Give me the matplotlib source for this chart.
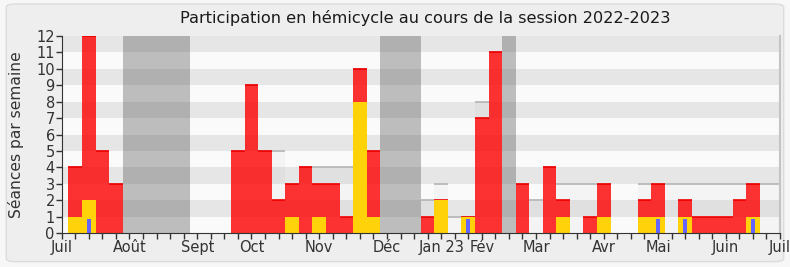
import matplotlib
matplotlib.use("Agg")
import matplotlib.pyplot as plt
from matplotlib.patches import FancyBboxPatch
import numpy as np

# ---- data (weeks of the session, index 1..53) ----
semaines = list(range(1, 54))
presences = [4, 12, 5, 3, 0, 0, 0, 0, 0, 0, 0, 0, 5, 9, 5, 2, 3, 4, 3, 3,
             1, 10, 5, 0, 0, 0, 1, 2, 0, 1, 7, 11, 0, 3, 0, 4, 2, 0, 1, 3,
             0, 0, 2, 3, 0, 2, 1, 1, 1, 2, 3, 0, 0]
interventions = [1, 2, 0, 0, 0, 0, 0, 0, 0, 0, 0, 0, 0, 0, 0, 0, 1, 0, 1, 0,
                 0, 8, 1, 0, 0, 0, 0, 2, 0, 1, 0, 0, 0, 0, 0, 0, 1, 0, 0, 1,
                 0, 0, 1, 1, 0, 1, 0, 0, 0, 0, 1, 0, 0]
questions = [0, 0.85, 0, 0, 0, 0, 0, 0, 0, 0, 0, 0, 0, 0, 0, 0, 0, 0, 0, 0,
             0, 0, 0, 0, 0, 0, 0, 0, 0, 0.85, 0, 0, 0, 0, 0, 0, 0, 0, 0, 0,
             0, 0, 0, 0.85, 0, 0.85, 0, 0, 0, 0, 0.85, 0, 0]
seances_totales = [4, 12, 5, 3, 0, 0, 0, 0, 0, 0, 0, 0, 5, 9, 5, 5, 3, 4, 4, 4,
                   4, 10, 5, 0, 0, 0, 2, 3, 1, 1, 8, 11, 0, 3, 2, 4, 3, 3, 3, 3,
                   0, 0, 3, 3, 3, 3, 3, 3, 3, 3, 3, 3, 3]
vacances_debut = [5, 24, 33]
vacances_fin = [9, 26, 33]
mois_labels = ["Juil", "Août", "Sept", "Oct", "Nov", "Déc", "Jan 23", "Fév",
               "Mar", "Avr", "Mai", "Juin", "Juil"]
mois_pos = [0, 5, 10, 14, 19, 24, 28, 31, 35, 40, 44, 49, 53]
y_max = 12

# ---- figure ----
fig = plt.figure(figsize=(7.9, 2.67), dpi=100)
fig.patch.set_facecolor("#f7f7f7")
frame = FancyBboxPatch((0.008, 0.02), 0.984, 0.965,
                       boxstyle="round,pad=0,rounding_size=0.012",
                       transform=fig.transFigure, facecolor="#eeeeee",
                       edgecolor="#dcdcdc", linewidth=1.0, zorder=-10)
fig.patches.append(frame)

ax = fig.add_axes([0.0781, 0.1273, 0.9092, 0.7379])
ax.set_zorder(1)
ax.set_xlim(0, 53)
ax.set_ylim(0, y_max)
ax.set_facecolor("#fafafa")

# horizontal stripes
for v in range(1, y_max, 2):
    ax.axhspan(v, v + 1, color="#e6e6e6", zorder=0.5, lw=0)

x = np.array(semaines)

# total sessions (light overlay with grey top line)
tot = np.array(seances_totales, dtype=float)
mt = tot > 0
ax.bar(x, tot, width=1.0, color=(0, 0, 0, 0.025), lw=0, zorder=1)
ax.hlines(tot[mt], x[mt] - 0.5, x[mt] + 0.5, colors="#b4b4b4", lw=1.2, zorder=1.1)

# presences (red)
pres = np.array(presences, dtype=float)
ax.bar(x, pres, width=1.0, color=(1, 0, 0, 0.8), lw=0, zorder=2)
m = pres > 0
ax.hlines(pres[m], x[m] - 0.5, x[m] + 0.5, colors="#ee0000", lw=1.2, zorder=2.1)

# interventions (yellow)
ax.bar(x, interventions, width=1.0, color="#ffd20a", lw=0, zorder=3)

# questions (blue)
ax.bar(x, questions, width=0.3, color="#6464ff", lw=0, zorder=4)

# holidays
for d, f in zip(vacances_debut, vacances_fin):
    ax.axvspan(d - 0.5, f + 0.5, color=(0.2, 0.2, 0.2, 0.3), lw=0, zorder=5)

# axes styling
ax.spines["top"].set_visible(False)
ax.spines["right"].set_color("#c4c4c4")
ax.spines["right"].set_linewidth(1.5)
ax.spines["left"].set_color("#333333")
ax.spines["bottom"].set_color("#333333")
ax.spines["left"].set_zorder(6)
ax.spines["bottom"].set_zorder(6)

ax.set_xticks(range(0, 54))
labels = [""] * 54
for p, l in zip(mois_pos, mois_labels):
    labels[p] = l
ax.set_xticklabels(labels)
ax.tick_params(axis="x", direction="out", length=4, width=1, colors="#333333",
               labelsize=10.5, pad=1)
ax.set_yticks(range(0, y_max + 1))
ax.tick_params(axis="y", direction="out", length=4, width=1, colors="#333333",
               labelsize=10.5, pad=1)

top = ax.secondary_xaxis("top")
top.set_xticks(range(1, 53))
top.set_xticklabels([])
top.tick_params(direction="in", length=2, width=1.2, colors="black")
top.spines["top"].set_visible(False)

ax.set_ylabel("Séances par semaine", fontsize=11.2, color="#333333", labelpad=9)
fig.text(0.538, 0.932, "Participation en hémicycle au cours de la session 2022-2023",
         ha="center", va="center", fontsize=11.6, color="#1a1a1a")

fig.savefig("out.png", dpi=100, facecolor=fig.get_facecolor())
